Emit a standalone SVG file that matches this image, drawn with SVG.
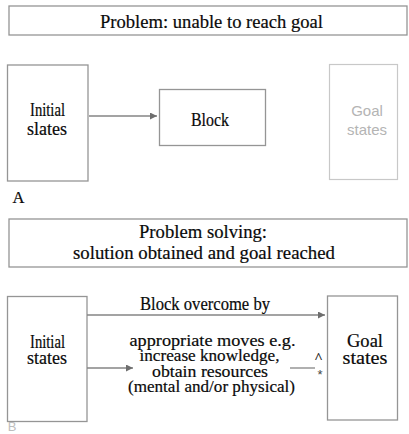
<svg xmlns="http://www.w3.org/2000/svg" width="409" height="434" viewBox="0 0 409 434">
  <style>
    .box { fill: #ffffff; stroke: #959595; stroke-width: 1.3; }
    .faint { fill: #ffffff; stroke: #c8c8c8; stroke-width: 1.2; }
    .serif { font-family: "Liberation Serif", "Times New Roman", serif; fill: #0a0a0a; stroke: #0a0a0a; stroke-width: 0.2; text-anchor: middle; }
    .sans { font-family: "Liberation Sans", Arial, sans-serif; fill: #b4b4b4; text-anchor: middle; }
    .conn { stroke: #858585; stroke-width: 1.3; fill: none; }
  </style>
  <defs>
    <marker id="arrow" viewBox="0 0 10 10" refX="10" refY="5" markerWidth="8" markerHeight="7" markerUnits="userSpaceOnUse" orient="auto">
      <path d="M0,0 L10,5 L0,10 z" fill="#6e6e6e"/>
    </marker>
  </defs>
  <rect width="409" height="434" fill="#ffffff"/>

  <!-- Panel A: the goal cannot be reached -->
  <g id="header-a">
    <rect class="box" x="9" y="6" width="398" height="29"/>
    <text class="serif" x="211.5" y="28" font-size="18.5" textLength="223" lengthAdjust="spacingAndGlyphs">Problem: unable to reach goal</text>
  </g>
  <g id="initial-a">
    <rect class="box" x="7.5" y="65" width="80.5" height="116"/>
    <text class="serif" x="47.5" y="116" font-size="18" textLength="35" lengthAdjust="spacingAndGlyphs">Initial</text>
    <text class="serif" x="47" y="135" font-size="18" textLength="40" lengthAdjust="spacingAndGlyphs">slates</text>
  </g>
  <g id="block-a">
    <rect class="box" x="159.5" y="89.5" width="106" height="56"/>
    <text class="serif" x="210" y="126" font-size="18" textLength="38" lengthAdjust="spacingAndGlyphs">Block</text>
  </g>
  <g id="goal-a">
    <rect class="faint" x="329.5" y="64.5" width="68" height="115"/>
    <text class="sans" x="367" y="116" font-size="15">Goal</text>
    <text class="sans" x="367" y="135" font-size="15">states</text>
  </g>
  <text class="serif" x="18.5" y="203" font-size="16.5">A</text>

  <!-- Panel B: the block is overcome -->
  <g id="header-b">
    <rect class="box" x="9" y="219" width="398" height="48"/>
    <text class="serif" x="203" y="238" font-size="18.5" textLength="128" lengthAdjust="spacingAndGlyphs">Problem solving:</text>
    <text class="serif" x="204" y="259" font-size="18.5" textLength="262" lengthAdjust="spacingAndGlyphs">solution obtained and goal reached</text>
  </g>
  <g id="initial-b">
    <rect class="box" x="7.5" y="296.5" width="79.5" height="125"/>
    <text class="serif" x="47.5" y="348" font-size="18" textLength="35" lengthAdjust="spacingAndGlyphs">Initial</text>
    <text class="serif" x="47" y="364" font-size="18" textLength="40" lengthAdjust="spacingAndGlyphs">states</text>
  </g>
  <g id="goal-b">
    <rect class="box" x="327.5" y="296" width="70" height="124"/>
    <text class="serif" x="365" y="347" font-size="18" textLength="36" lengthAdjust="spacingAndGlyphs">Goal</text>
    <text class="serif" x="365" y="364" font-size="18" textLength="45" lengthAdjust="spacingAndGlyphs">states</text>
  </g>
  <g id="moves-b">
    <text class="serif" x="205" y="310" font-size="18" textLength="130" lengthAdjust="spacingAndGlyphs">Block overcome by</text>
    <text class="serif" x="212.5" y="346" font-size="16.5" textLength="166" lengthAdjust="spacingAndGlyphs">appropriate moves e.g.</text>
    <text class="serif" x="209.5" y="361" font-size="16.5" textLength="140" lengthAdjust="spacingAndGlyphs">increase knowledge,</text>
    <text class="serif" x="210" y="377" font-size="16.5" textLength="116" lengthAdjust="spacingAndGlyphs">obtain resources</text>
    <text class="serif" x="211.5" y="392" font-size="16.5" textLength="167" lengthAdjust="spacingAndGlyphs">(mental and/or physical)</text>
    <text class="serif" x="318.5" y="363" font-size="15">^</text>
    <text class="sans" x="320" y="379" font-size="13" style="fill:#444444">*</text>
  </g>
  <text class="sans" x="12" y="431" font-size="13" style="fill:#bdbdbd">B</text>

  <!-- Connectors -->
  <g id="connectors">
    <line class="conn" x1="89" y1="116" x2="157" y2="116" marker-end="url(#arrow)"/>
    <line class="conn" x1="87" y1="315" x2="325" y2="315" marker-end="url(#arrow)"/>
    <line class="conn" x1="87" y1="368" x2="133" y2="368" marker-end="url(#arrow)"/>
    <line class="conn" x1="290" y1="368" x2="315" y2="368"/>
  </g>
</svg>
